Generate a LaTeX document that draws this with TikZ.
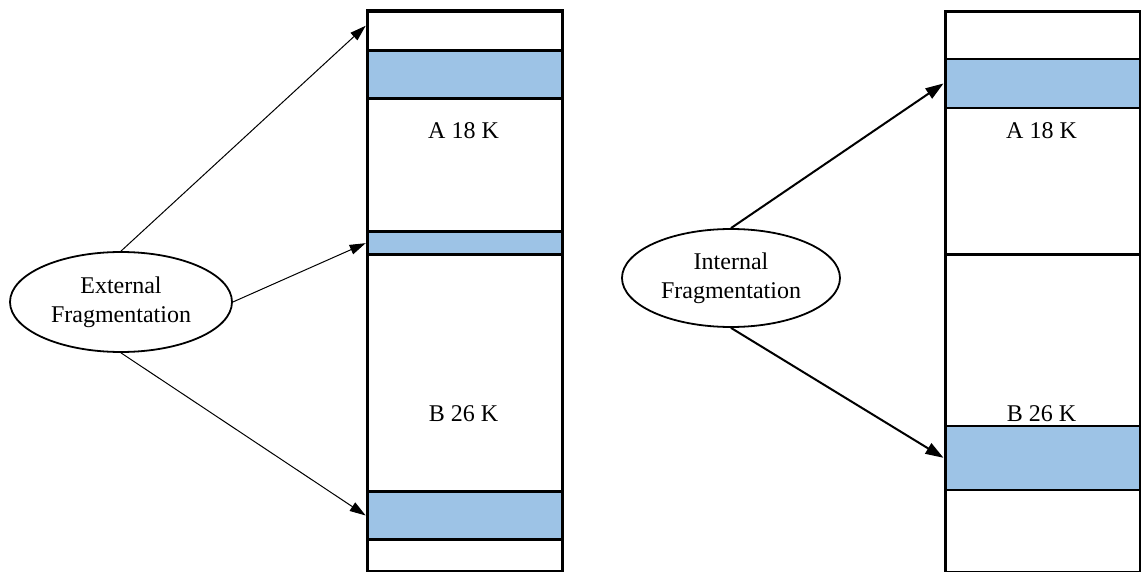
\documentclass[tikz,border=0pt]{standalone}
\usepackage{fontspec}
\setmainfont{Liberation Serif}
\usetikzlibrary{shapes.geometric,arrows.meta}
\definecolor{band}{RGB}{157,195,230}
\begin{document}
\begin{tikzpicture}[x=1pt,y=-1pt,
  txt/.style={font=\fontsize{24}{29}\selectfont, inner sep=0pt},
  seg/.style={draw, line width=3.3pt, rectangle, inner sep=0pt, anchor=north west},
  bandL/.style={seg, fill=band},
  bandR/.style={draw, line width=1.6pt, fill=band, rectangle, inner sep=0pt, anchor=north west},
  oval/.style={draw, ellipse, line width=1.8pt, inner sep=0pt, align=center, font=\fontsize{24}{29}\selectfont},
  arrL/.style={line width=1pt, -{Triangle[length=16pt,width=10pt]}},
  arrR/.style={line width=2pt, -{Triangle[length=18pt,width=12pt]}}
]
\useasboundingbox (0,0) rectangle (1141,572);
% left column
\node[seg, minimum width=195.3pt, minimum height=39.2pt] (l1) at (365.7,9.5) {};
\node[bandL, minimum width=195.3pt, minimum height=48.3pt] (l2) at (365.7,48.7) {};
\node[seg, minimum width=195.3pt, minimum height=133pt] (l3) at (365.7,97) {};
\node[bandL, minimum width=195.3pt, minimum height=23pt] (l4) at (365.7,230) {};
\node[seg, minimum width=195.3pt, minimum height=237pt] (l5) at (365.7,253) {};
\node[bandL, minimum width=195.3pt, minimum height=47.7pt] (l6) at (365.7,490) {};
\node[seg, minimum width=195.3pt, minimum height=32.3pt] (l7) at (365.7,537.7) {};
\node[txt] (la) at (463.5,131) {A 18 K};
\node[txt] (lb) at (463.5,414) {B 26 K};
% right column
\node[bandR, minimum width=195.5pt, minimum height=48.7pt] (r2) at (943.5,58.3) {};
\node[bandR, minimum width=195.5pt, minimum height=64pt] (r5) at (943.5,425) {};
\node[seg, minimum width=195.5pt, minimum height=243pt] (r1) at (943.5,10) {};
\node[seg, minimum width=195.5pt, minimum height=317.5pt] (r4) at (943.5,253) {};
\node[txt] (ra) at (1041.5,131) {A 18 K};
\node[txt] (rb) at (1041.5,414) {B 26 K};
% ellipses
\node[oval, minimum width=222pt, minimum height=100pt] (ext) at (121,302) {External\\Fragmentation};
\node[oval, minimum width=218pt, minimum height=98pt] (int) at (731,278) {Internal\\Fragmentation};
% arrows
\draw[arrL] (ext.north) -- ([yshift=5pt]l1.west);
\draw[arrL] (ext.east) -- (l4.west);
\draw[arrL] (ext.south) -- (l6.west);
\draw[arrR] (int.north) -- (r2.west);
\draw[arrR] (int.south) -- (r5.west);
\end{tikzpicture}
\end{document}
